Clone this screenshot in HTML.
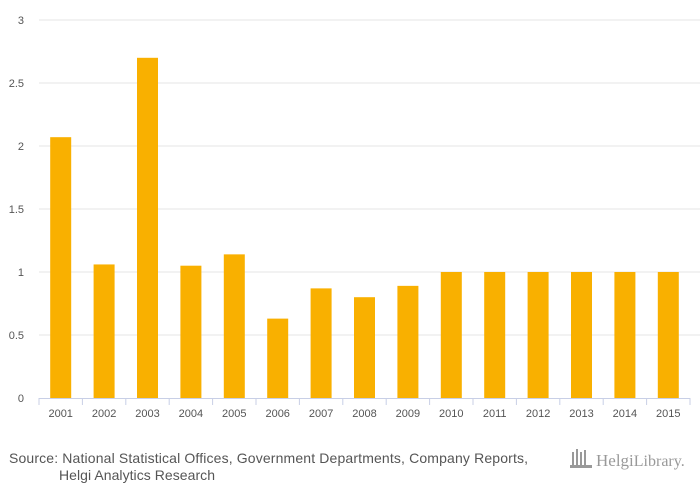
<!DOCTYPE html>
<html><head><meta charset="utf-8"><style>
body{margin:0;background:#fff;font-family:"Liberation Sans",sans-serif;}
svg{display:block}
</style></head><body>
<svg width="700" height="500">
<rect width="700" height="500" fill="#fff"/>
<g id="grid"></g><g id="bars"></g><g id="axis"></g>
<text x="9" y="463" font-size="14" fill="#555" textLength="519">Source: National Statistical Offices, Government Departments, Company Reports,</text>
<text x="59" y="480" font-size="14" fill="#555" textLength="156">Helgi Analytics Research</text>
<g>
<g fill="#999"><rect x="572" y="452" width="2" height="14"/><rect x="576" y="449" width="2" height="17"/><rect x="580" y="452" width="2" height="14"/><rect x="584" y="450" width="2" height="16"/><rect x="570" y="465" width="22" height="3"/></g>
<text x="596" y="466" font-size="17" fill="#999" font-family="Liberation Serif,serif">Helgi<tspan font-size="16">Library.</tspan></text>
</g>
</svg>
<script>
const categories=["2001","2002","2003","2004","2005","2006","2007","2008","2009","2010","2011","2012","2013","2014","2015"];
const values=[2.07,1.06,2.70,1.05,1.14,0.63,0.87,0.80,0.89,1.0,1.0,1.0,1.0,1.0,1.0];
const yTicks=[0,0.5,1,1.5,2,2.5,3];
const yTickLabels=["0","0.5","1","1.5","2","2.5","3"];
const NS="http://www.w3.org/2000/svg";
const x0=39,x1=690,y0=398,yTop=20,yMax=3;
const band=(x1-x0)/categories.length;
const y=v=>y0-(v/yMax)*(y0-yTop);
const xc=i=>x0+band*(i+0.5);
function mk(t,a,p){const e=document.createElementNS(NS,t);for(const k in a)e.setAttribute(k,a[k]);document.getElementById(p).appendChild(e);return e;}
yTicks.forEach((v,i)=>{
 if(v>0){const l=mk('line',{x1:x0,x2:700,y1:y(v),y2:y(v),stroke:'#e6e6e6','stroke-width':1},'grid');
 
 }
 const t=mk('text',{x:24,y:y(v)+4,'font-size':11,fill:'#555','text-anchor':'end'},'axis');
 t.textContent=yTickLabels[i];
 
 
});
values.forEach((v,i)=>{
 const r=mk('rect',{x:xc(i)-10.5,y:y(v),width:21,height:y0-y(v),fill:'#f9b000'},'bars');
 
 
});
const ax=mk('line',{x1:x0,x2:x1,y1:y0+0.5,y2:y0+0.5,stroke:'#c8cfe6','stroke-width':1},'axis');


for(let i=0;i<=categories.length;i++){
 const tk=mk('line',{x1:x0+band*i,x2:x0+band*i,y1:y0,y2:y0+7,stroke:'#c8cfe6'},'axis');
 
 
}
categories.forEach((c,i)=>{
 const t=mk('text',{x:xc(i),y:417,'font-size':11,fill:'#555','text-anchor':'middle'},'axis');
 t.textContent=c;
 
 
});
</script>
</body></html>
